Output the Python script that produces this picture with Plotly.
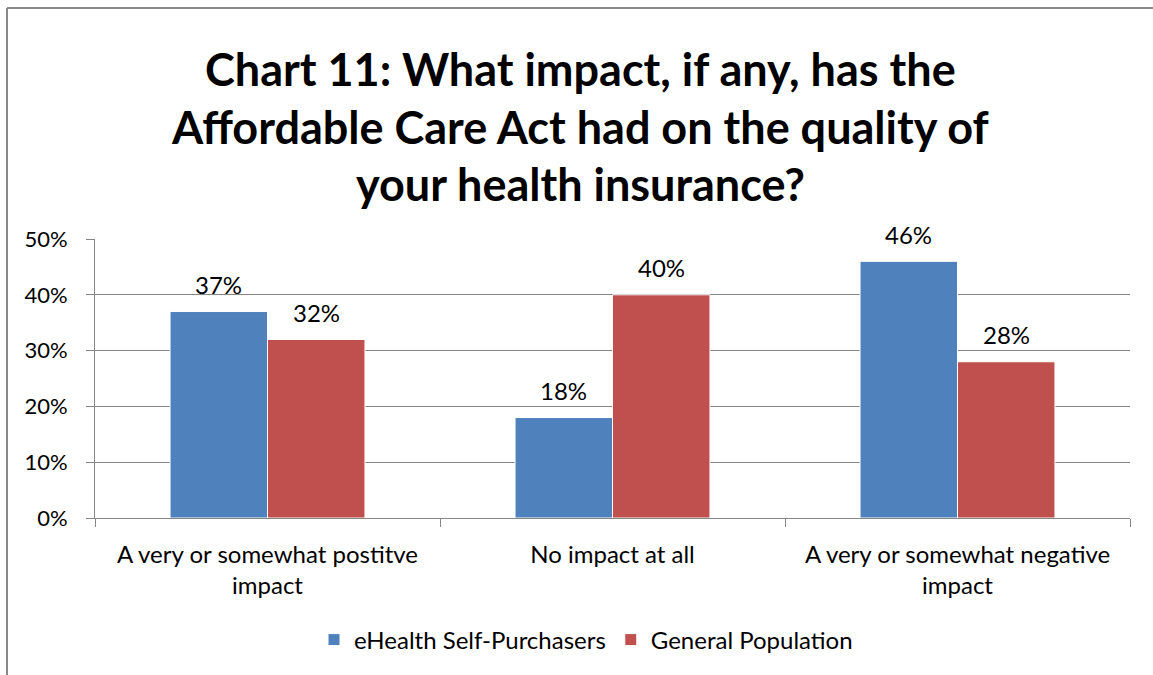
import plotly.graph_objects as go

# Survey responses (share of respondents)
categories = ["A very or somewhat postitve<br>impact", "No impact at all", "A very or somewhat negative<br>impact"]
ehealth = [0.37, 0.18, 0.46]
general = [0.32, 0.40, 0.28]
series_names = ["eHealth Self-Purchasers", "General Population"]
title_lines = [
    "Chart 11: What impact, if any, has the",
    "Affordable Care Act had on the quality of",
    "your health insurance?",
]

W, H = 1153, 675
L, R, T, B = 95, 23, 239, 157
PW, PH = W - L - R, H - T - B
BARGAP = 0.435

FONT = "Lato, Calibri, Carlito, sans-serif"
BLUE = "#4F81BD"
RED = "#C0504D"
GRID = "#868686"
FRAME = "#898989"


def px_x(x):
    return (x - L) / PW


def px_y(y):
    return (H - B - y) / PH


fig = go.Figure()
for name, vals, col in [(series_names[0], ehealth, BLUE), (series_names[1], general, RED)]:
    fig.add_trace(go.Bar(
        x=categories, y=vals, name=name,
        marker=dict(color=col, line=dict(color="white", width=1)),
        hoverinfo="skip",
    ))

# value labels above each bar
cat_px = PW / len(categories)
bar_px = cat_px * (1 - BARGAP) / 2
for k, vals in enumerate([ehealth, general]):
    shift = (k - 0.5) * bar_px
    for c, v in zip(categories, vals):
        fig.add_annotation(
            x=c, y=v, xref="x", yref="y", text=f"{round(v * 100)}%",
            showarrow=False, xshift=shift, yshift=27, yanchor="middle",
            font=dict(family=FONT, size=24, color="black"),
        )

# title, one annotation per line
for yc, line in zip([69, 127, 184], title_lines):
    fig.add_annotation(
        x=px_x(580), y=px_y(yc), xref="paper", yref="paper", text=f"<b>{line}</b>",
        showarrow=False, xanchor="center", yanchor="middle",
        font=dict(family=FONT, size=45, color="black"),
    )

# chart frame: only its left and top edges fall on the page
fig.add_shape(type="line", xref="paper", yref="paper",
              x0=px_x(7), x1=px_x(7), y0=px_y(H + 5), y1=px_y(8),
              line=dict(color=FRAME, width=2), layer="below")
fig.add_shape(type="line", xref="paper", yref="paper",
              x0=px_x(7), x1=px_x(W + 5), y0=px_y(8), y1=px_y(8),
              line=dict(color=FRAME, width=2), layer="below")

fig.update_layout(
    width=W, height=H,
    margin=dict(l=L, r=R, t=T, b=B),
    paper_bgcolor="white", plot_bgcolor="white",
    barmode="group", bargap=BARGAP, bargroupgap=0,
    font=dict(family=FONT, size=24, color="black"),
    showlegend=True,
    legend=dict(orientation="h", x=px_x(586), xanchor="center", y=px_y(640), yanchor="middle",
                font=dict(family=FONT, size=24, color="black"), itemwidth=30,
                bgcolor="rgba(0,0,0,0)"),
)
fig.update_xaxes(
    showgrid=False, showline=True, linecolor=GRID, linewidth=1,
    ticks="outside", tickson="boundaries", ticklen=8, tickcolor=GRID, tickwidth=1,
    tickfont=dict(family=FONT, size=24, color="black"), ticklabelstandoff=15,
)
fig.update_yaxes(
    range=[0, 0.5], dtick=0.1, tickformat=".0%",
    showgrid=True, gridcolor=GRID, gridwidth=1, zeroline=False,
    showline=True, linecolor=GRID, linewidth=1,
    ticks="outside", ticklen=8, tickcolor=GRID, tickwidth=1,
    tickfont=dict(family=FONT, size=22, color="black"), ticklabelstandoff=14,
)

fig.write_html("out.html")
